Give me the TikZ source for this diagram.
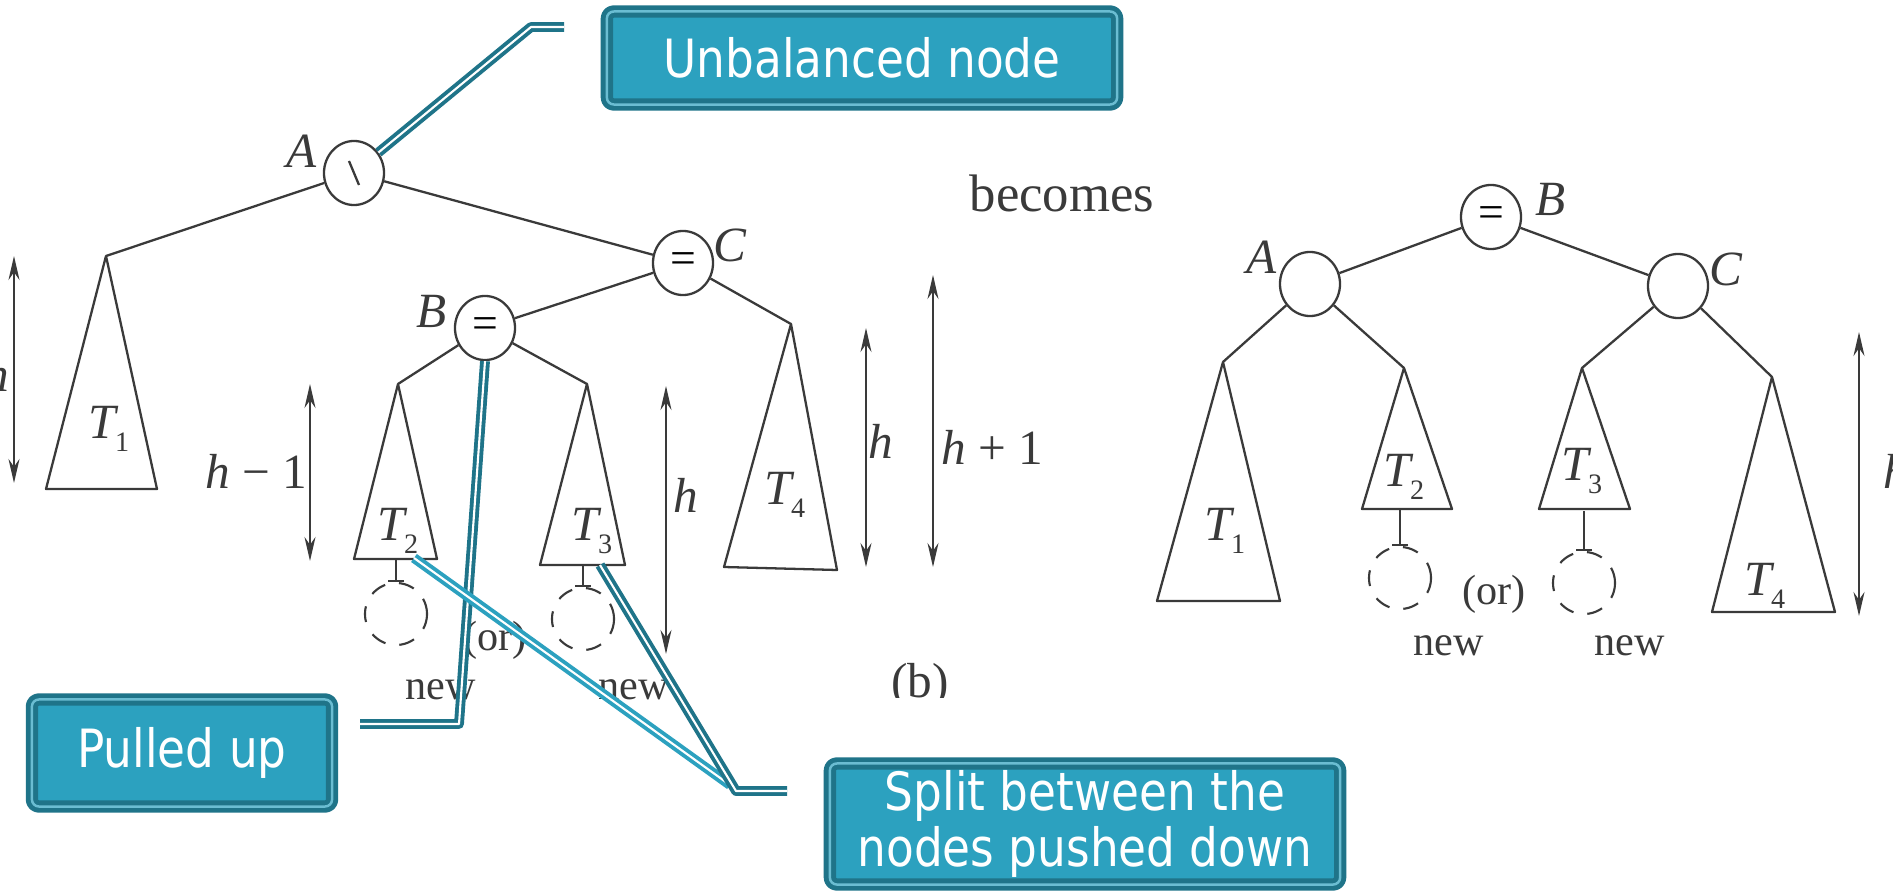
\documentclass[tikz,border=0pt]{standalone}
\usepackage{fontspec}
\setmainfont{Liberation Serif}
\newfontfamily\calloutfont[FakeStretch=0.86]{DejaVu Sans}
\usetikzlibrary{arrows.meta,shapes.geometric}
\definecolor{callfill}{HTML}{2CA1BF}
\definecolor{calldark}{HTML}{1F7489}
\definecolor{treeink}{HTML}{3A3A3A}
\newcommand{\tsub}[1]{\textit{T}\kern-0.08em\raisebox{-0.6ex}{\upshape\footnotesize#1}}

\begin{document}
\begin{tikzpicture}[x=0.01cm,y=-0.01cm,line join=round,
  treeline/.style={treeink,line width=0.65pt},
  bal/.style={ellipse,draw=treeink,line width=0.65pt,minimum width=0.6cm,minimum height=0.64cm,inner sep=0pt,font=\fontsize{13}{13}\selectfont},
  leafnew/.style={circle,draw=treeink,line width=0.6pt,dash pattern=on 4.5pt off 4pt,minimum size=0.62cm,inner sep=0pt},
  lbl/.style={font=\fontsize{14}{14}\selectfont\itshape,text=treeink},
  tlbl/.style={font=\fontsize{14}{14}\selectfont,text=treeink},
  txt/.style={font=\fontsize{12}{12}\selectfont,text=treeink},
  dim/.style={treeink,line width=0.5pt,{Stealth[length=2.4mm,width=1.1mm]}-{Stealth[length=2.4mm,width=1.1mm]}},
  stem/.style={treeink,line width=0.6pt,-{Bar[width=1.6mm]}},
  callbox/.style={draw=calldark,fill=callfill,line width=1.4pt,double=callfill!70!white,double distance=0.7pt,rounded corners=2pt,text=white,align=center,inner sep=0pt,font=\calloutfont\fontsize{15}{16}\selectfont},
  callline/.style={draw=#1,line width=1.1pt,double=white,double distance=0.6pt},
  callline/.default=calldark]
\fill[white] (0,0) rectangle (1893,894);
\useasboundingbox (0,0) rectangle (1893,894);

% before
\node[bal] (A1) at (354,173) {};
\draw[treeline] (A1.center) ++(-5,-12) -- ++(10,24);
\node[bal] (C1) at (683,263) {=};
\node[bal] (B1) at (485,328) {=};
\node[lbl] (labA1) at (302,151) {A};
\node[lbl] (labB1) at (432,311) {B};
\node[lbl] (labC1) at (730,245) {C};
\coordinate (t1) at (106,256);
\coordinate (t2) at (398,384);
\coordinate (t3) at (587,384);
\coordinate (t4) at (791,324);
\draw[treeline] (t1) -- (46,489) -- (157,489) -- cycle;
\draw[treeline] (t2) -- (354,559) -- (437,559) -- cycle;
\draw[treeline] (t3) -- (540,565) -- (625,565) -- cycle;
\draw[treeline] (t4) -- (724,567) -- (837,570) -- cycle;
\draw[treeline] (A1) -- (t1) (A1) -- (C1) (C1) -- (B1) (C1) -- (t4) (B1) -- (t2) (B1) -- (t3);
\node[tlbl] (T1a) at (109,429) {\tsub{1}};
\node[tlbl] (T2a) at (398,531) {\tsub{2}};
\node[tlbl] (T3a) at (592,531) {\tsub{3}};
\node[tlbl] (T4a) at (785,495) {\tsub{4}};
\coordinate (b2) at (396,559);
\coordinate (b3) at (583,565);
\node[leafnew] (n2) at (396,614) {};
\node[leafnew] (n3) at (583,619) {};
\draw[stem] (b2) -- (n2.north);
\draw[stem] (b3) -- (n3.north);
\node[txt] (or1) at (495,640) {(or)};
\node[txt] (new2) at (441,690) {new};
\node[txt] (new3) at (634,690) {new};
\draw[dim] (14,256) -- (14,483);
\node[tlbl] at (-3,374) {\textit{h}};
\draw[dim] (310,384) -- (310,561);
\node[tlbl] at (256,471) {\textit{h} − 1};
\draw[dim] (666,386) -- (666,654);
\node[tlbl] at (686,495) {\textit{h}};
\draw[dim] (866,328) -- (866,567);
\node[tlbl] at (881,441) {\textit{h}};
\draw[dim] (933,275) -- (933,567);
\node[tlbl] at (992,447) {\textit{h} + 1};
\node[font=\fontsize{15}{15}\selectfont,text=treeink] (becomes) at (1062,193) {becomes};
\begin{scope}
\clip (860,640) rectangle (990,697);
\node[tlbl] (partb) at (920,686) {(b)};
\end{scope}

% after
\node[bal] (B2) at (1491,217) {=};
\node[bal] (A2) at (1310,284) {};
\node[bal] (C2) at (1678,286) {};
\node[lbl] (labB2) at (1551,199) {B};
\node[lbl] (labA2) at (1262,257) {A};
\node[lbl] (labC2) at (1726,269) {C};
\coordinate (r1) at (1223,362);
\coordinate (r2) at (1404,368);
\coordinate (r3) at (1582,368);
\coordinate (r4) at (1772,377);
\draw[treeline] (r1) -- (1157,601) -- (1280,601) -- cycle;
\draw[treeline] (r2) -- (1362,509) -- (1452,509) -- cycle;
\draw[treeline] (r3) -- (1539,509) -- (1630,509) -- cycle;
\draw[treeline] (r4) -- (1712,612) -- (1835,612) -- cycle;
\draw[treeline] (B2) -- (A2) (B2) -- (C2) (A2) -- (r1) (A2) -- (r2) (C2) -- (r3) (C2) -- (r4);
\node[tlbl] (T1b) at (1225,531) {\tsub{1}};
\node[tlbl] (T2b) at (1404,477) {\tsub{2}};
\node[tlbl] (T3b) at (1582,471) {\tsub{3}};
\node[tlbl] (T4b) at (1765,586) {\tsub{4}};
\coordinate (rb2) at (1400,509);
\coordinate (rb3) at (1584,511);
\node[leafnew] (m2) at (1400,578) {};
\node[leafnew] (m3) at (1584,583) {};
\draw[stem] (rb2) -- (m2.north);
\draw[stem] (rb3) -- (m3.north);
\node[txt] (or2) at (1494,594) {(or)};
\node[txt] (new2b) at (1449,646) {new};
\node[txt] (new3b) at (1630,646) {new};
\draw[dim] (1859,332) -- (1859,616);
\node[tlbl] at (1896,471) {\textit{h}};

% callouts
\node[callbox,minimum width=5.1cm,minimum height=0.93cm] (unbal) at (862,58) {Unbalanced node};
\node[callbox,minimum width=3.0cm,minimum height=1.07cm] (pulled) at (182,753) {Pulled up};
\node[callbox,minimum width=5.1cm,minimum height=1.21cm] (split) at (1085,824) {Split between the\\nodes pushed down};
\coordinate (s2) at (414,558);
\coordinate (s3) at (600,565);
\draw[callline] (A1.40) -- (531,27) -- (564,27);
\draw[callline] (B1.south) -- (459,724) -- (360,724);
\draw[callline=callfill] (s2) -- (730,785);
\draw[callline] (s3) -- (736,791) -- (787,791);
\end{tikzpicture}
\end{document}
